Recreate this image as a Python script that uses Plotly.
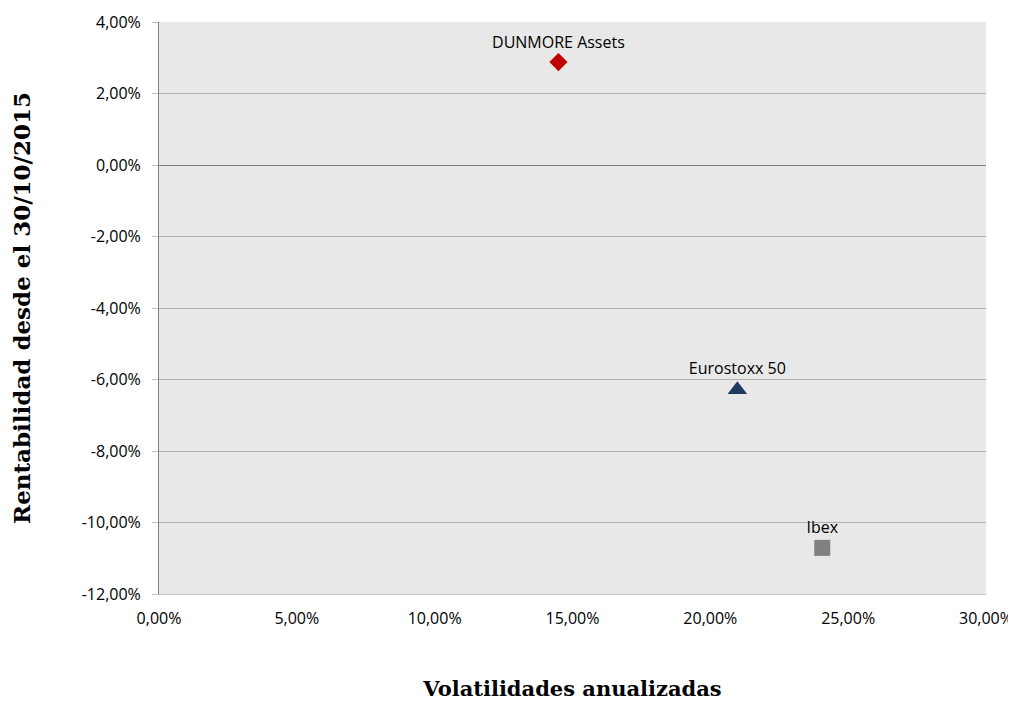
import plotly.graph_objects as go

names = ["DUNMORE Assets", "Eurostoxx 50", "Ibex"]
volatility = [0.1449, 0.2098, 0.2406]
returns = [0.0288, -0.0629, -0.1071]
symbols = ["diamond", "triangle-up", "square"]
colors = ["#c00000", "#1f3864", "#808080"]
sizes = [14, 17, 16]

x_ticks = [0, 0.05, 0.10, 0.15, 0.20, 0.25, 0.30]
x_labels = ["0,00%", "5,00%", "10,00%", "15,00%", "20,00%", "25,00%", "30,00%"]
y_ticks = [-0.12, -0.10, -0.08, -0.06, -0.04, -0.02, 0, 0.02, 0.04]
y_labels = ["-12,00%", "-10,00%", "-8,00%", "-6,00%", "-4,00%", "-2,00%", "0,00%", "2,00%", "4,00%"]

fig = go.Figure()
for n, xv, yv, s, c, sz in zip(names, volatility, returns, symbols, colors, sizes):
    fig.add_trace(go.Scatter(
        x=[xv], y=[yv], mode="markers+text", name=n,
        text=[n], textposition="top center",
        textfont=dict(family="Open Sans, Liberation Sans, sans-serif", size=16, color="#000"),
        marker=dict(symbol=s, color=c, size=sz, line=dict(width=0)),
        cliponaxis=False,
    ))

fig.update_layout(
    width=1008, height=693,
    margin=dict(l=151, r=30, t=14, b=107),
    paper_bgcolor="white",
    plot_bgcolor="#e8e8e8",
    showlegend=False,
    font=dict(family="Open Sans, Liberation Sans, sans-serif", size=16, color="#000"),
)
fig.update_xaxes(
    range=[0, 0.30], tickvals=x_ticks, ticktext=x_labels,
    tickfont=dict(size=16),
    showgrid=False, zeroline=False,
    showline=True, linecolor="#c8c8c8", linewidth=1,
    ticks="", ticklabelstandoff=10, automargin=False,
    title=dict(text="<b>Volatilidades anualizadas</b>",
               font=dict(family="DejaVu Serif, Liberation Serif, serif", size=21), standoff=55),
)
fig.update_yaxes(
    range=[-0.12, 0.04], tickvals=y_ticks, ticktext=y_labels,
    tickfont=dict(size=16),
    showgrid=True, gridcolor="#b0b0b0", gridwidth=1,
    zeroline=True, zerolinecolor="#7f7f7f", zerolinewidth=1,
    showline=True, linecolor="#808080", linewidth=1,
    ticks="outside", ticklen=6, tickcolor="#bfbfbf", automargin=False,
    ticklabelstandoff=8,
    title=dict(text="<b>Rentabilidad desde el 30/10/2015</b>",
               font=dict(family="DejaVu Serif, Liberation Serif, serif", size=23), standoff=45),
)

fig.write_html("out.html")
